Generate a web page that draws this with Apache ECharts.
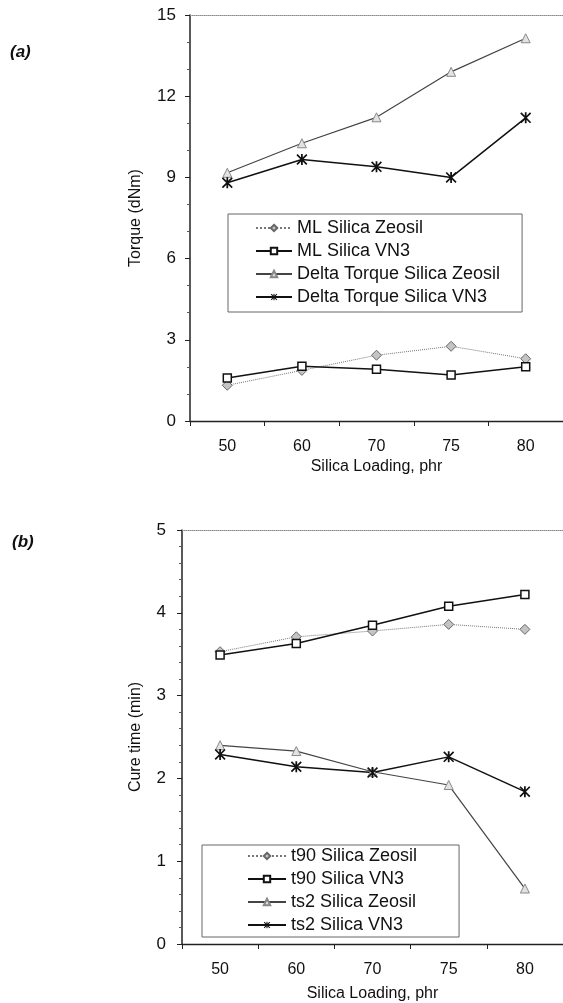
<!DOCTYPE html>
<html>
<head>
<meta charset="utf-8">
<script src="https://cdn.jsdelivr.net/npm/echarts@6/dist/echarts.min.js"></script>
<style>
  html, body { margin: 0; padding: 0; background: #fff; }
  #chart { width: 563px; height: 1003px; }
</style>
</head>
<body>
<div id="chart"></div>
<script>
// silica loading (phr)
const categories = ['50', '60', '70', '75', '80'];

// (a) torque, dNm
const torqueTicks = [0, 3, 6, 9, 12, 15];
const mlZeosil = [1.32, 1.87, 2.43, 2.76, 2.30];
const mlVN3 = [1.59, 2.02, 1.91, 1.70, 2.00];
const deltaZeosil = [9.17, 10.26, 11.22, 12.90, 14.14];
const deltaVN3 = [8.80, 9.66, 9.39, 9.00, 11.20];

// (b) cure time, min
const cureTicks = [0, 1, 2, 3, 4, 5];
const t90Zeosil = [3.53, 3.71, 3.78, 3.86, 3.80];
const t90VN3 = [3.49, 3.63, 3.85, 4.08, 4.22];
const ts2Zeosil = [2.40, 2.33, 2.08, 1.92, 0.67];
const ts2VN3 = [2.29, 2.14, 2.07, 2.26, 1.84];

const FONT = "'Liberation Sans', Arial, sans-serif";
const ink = '#111';

// asterisk marker: vertical bar plus an X
const asterisk = 'path://M4.2 0L5.8 0L5.8 10L4.2 10Z' +
  'M1.1 0L10 8.9L8.9 10L0 1.1Z' +
  'M8.9 0L10 1.1L1.1 10L0 8.9Z';

const styles = {
  zeosilML: {
    lineStyle: { color: '#777', width: 1, type: 'dotted' },
    symbol: 'diamond', symbolSize: 10,
    itemStyle: { color: '#c4c4c4', borderColor: '#666', borderWidth: 1 }
  },
  vn3ML: {
    lineStyle: { color: ink, width: 1.5 },
    symbol: 'rect', symbolSize: 8,
    itemStyle: { color: '#fff', borderColor: ink, borderWidth: 1.5 }
  },
  zeosilDelta: {
    lineStyle: { color: '#444', width: 1.2 },
    symbol: 'triangle', symbolSize: 9,
    itemStyle: { color: '#e2e2e2', borderColor: '#888', borderWidth: 1 }
  },
  vn3Delta: {
    lineStyle: { color: ink, width: 1.5 },
    symbol: asterisk, symbolSize: 11,
    itemStyle: { color: ink }
  }
};

function line(name, data, style, idx) {
  return Object.assign({
    name: name,
    type: 'line',
    data: data,
    xAxisIndex: idx * 2,
    yAxisIndex: idx,
    showSymbol: true,
    animation: false
  }, style);
}

function bottomAxis(gridIndex, nameGap) {
  return {
    type: 'category', gridIndex: gridIndex, data: categories, boundaryGap: true,
    position: 'bottom',
    name: 'Silica Loading, phr', nameLocation: 'middle', nameGap: nameGap,
    nameTextStyle: { fontFamily: FONT, fontSize: 16, color: ink },
    axisLine: { lineStyle: { color: '#222', width: 1.3 } },
    axisTick: { show: true, length: 5, lineStyle: { color: '#222' } },
    axisLabel: { fontFamily: FONT, fontSize: 16, color: ink, margin: 18 }
  };
}

function topBorder(gridIndex) {
  return {
    type: 'category', gridIndex: gridIndex, data: categories, position: 'top',
    axisLine: { show: true, lineStyle: { color: '#888', width: 1, type: 'dotted' } },
    axisTick: { show: false }, axisLabel: { show: false }
  };
}

function leftAxis(gridIndex, ticks, name, nameGap, minorSplit, margin) {
  return {
    type: 'value', gridIndex: gridIndex,
    min: ticks[0], max: ticks[ticks.length - 1], interval: ticks[1] - ticks[0],
    name: name, nameLocation: 'middle', nameGap: nameGap,
    nameTextStyle: { fontFamily: FONT, fontSize: 16, color: ink },
    axisLine: { show: true, lineStyle: { color: '#222', width: 1.5 } },
    axisTick: { show: true, length: 5, lineStyle: { color: '#222' } },
    minorTick: { show: true, splitNumber: minorSplit, length: 3, lineStyle: { color: '#555' } },
    splitLine: { show: false },
    axisLabel: { fontFamily: FONT, fontSize: 17, color: ink, margin: margin }
  };
}

function legendBox(names, left, top, padding, itemWidth) {
  return {
    data: names, orient: 'vertical', left: left, top: top,
    padding: padding, itemGap: 5, itemWidth: itemWidth, itemHeight: 8,
    borderColor: '#666', borderWidth: 1, backgroundColor: '#fff',
    selectedMode: false,
    textStyle: { fontFamily: FONT, fontSize: 18, lineHeight: 18, color: ink }
  };
}

const namesA = ['ML Silica Zeosil', 'ML Silica VN3', 'Delta Torque Silica Zeosil', 'Delta Torque Silica VN3'];
const namesB = ['t90 Silica Zeosil', 't90 Silica VN3', 'ts2 Silica Zeosil', 'ts2 Silica VN3'];

const chart = echarts.init(document.getElementById('chart'), null, { renderer: 'canvas' });
chart.setOption({
  backgroundColor: '#fff',
  animation: false,
  textStyle: { fontFamily: FONT },
  grid: [
    { left: 190, top: 15, width: 378, height: 406 },
    { left: 182, top: 530, width: 388, height: 415 }
  ],
  xAxis: [bottomAxis(0, 38), topBorder(0), bottomAxis(1, 42), topBorder(1)],
  yAxis: [
    leftAxis(0, torqueTicks, 'Torque (dNm)', 46, 3, 14),
    leftAxis(1, cureTicks, 'Cure time (min)', 38, 5, 16)
  ],
  legend: [
    legendBox(namesA, 228, 214, [5, 22, 6, 27], 36),
    legendBox(namesB, 202, 845, [2, 42, 3, 45], 38)
  ],
  graphic: [
    { type: 'text', left: 10, top: 44, style: { text: '(a)', font: 'italic bold 17px ' + FONT, fill: ink } },
    { type: 'text', left: 12, top: 534, style: { text: '(b)', font: 'italic bold 17px ' + FONT, fill: ink } }
  ],
  series: [
    line(namesA[0], mlZeosil, styles.zeosilML, 0),
    line(namesA[1], mlVN3, styles.vn3ML, 0),
    line(namesA[2], deltaZeosil, styles.zeosilDelta, 0),
    line(namesA[3], deltaVN3, styles.vn3Delta, 0),
    line(namesB[0], t90Zeosil, styles.zeosilML, 1),
    line(namesB[1], t90VN3, styles.vn3ML, 1),
    line(namesB[2], ts2Zeosil, styles.zeosilDelta, 1),
    line(namesB[3], ts2VN3, styles.vn3Delta, 1)
  ]
});
</script>
</body>
</html>
